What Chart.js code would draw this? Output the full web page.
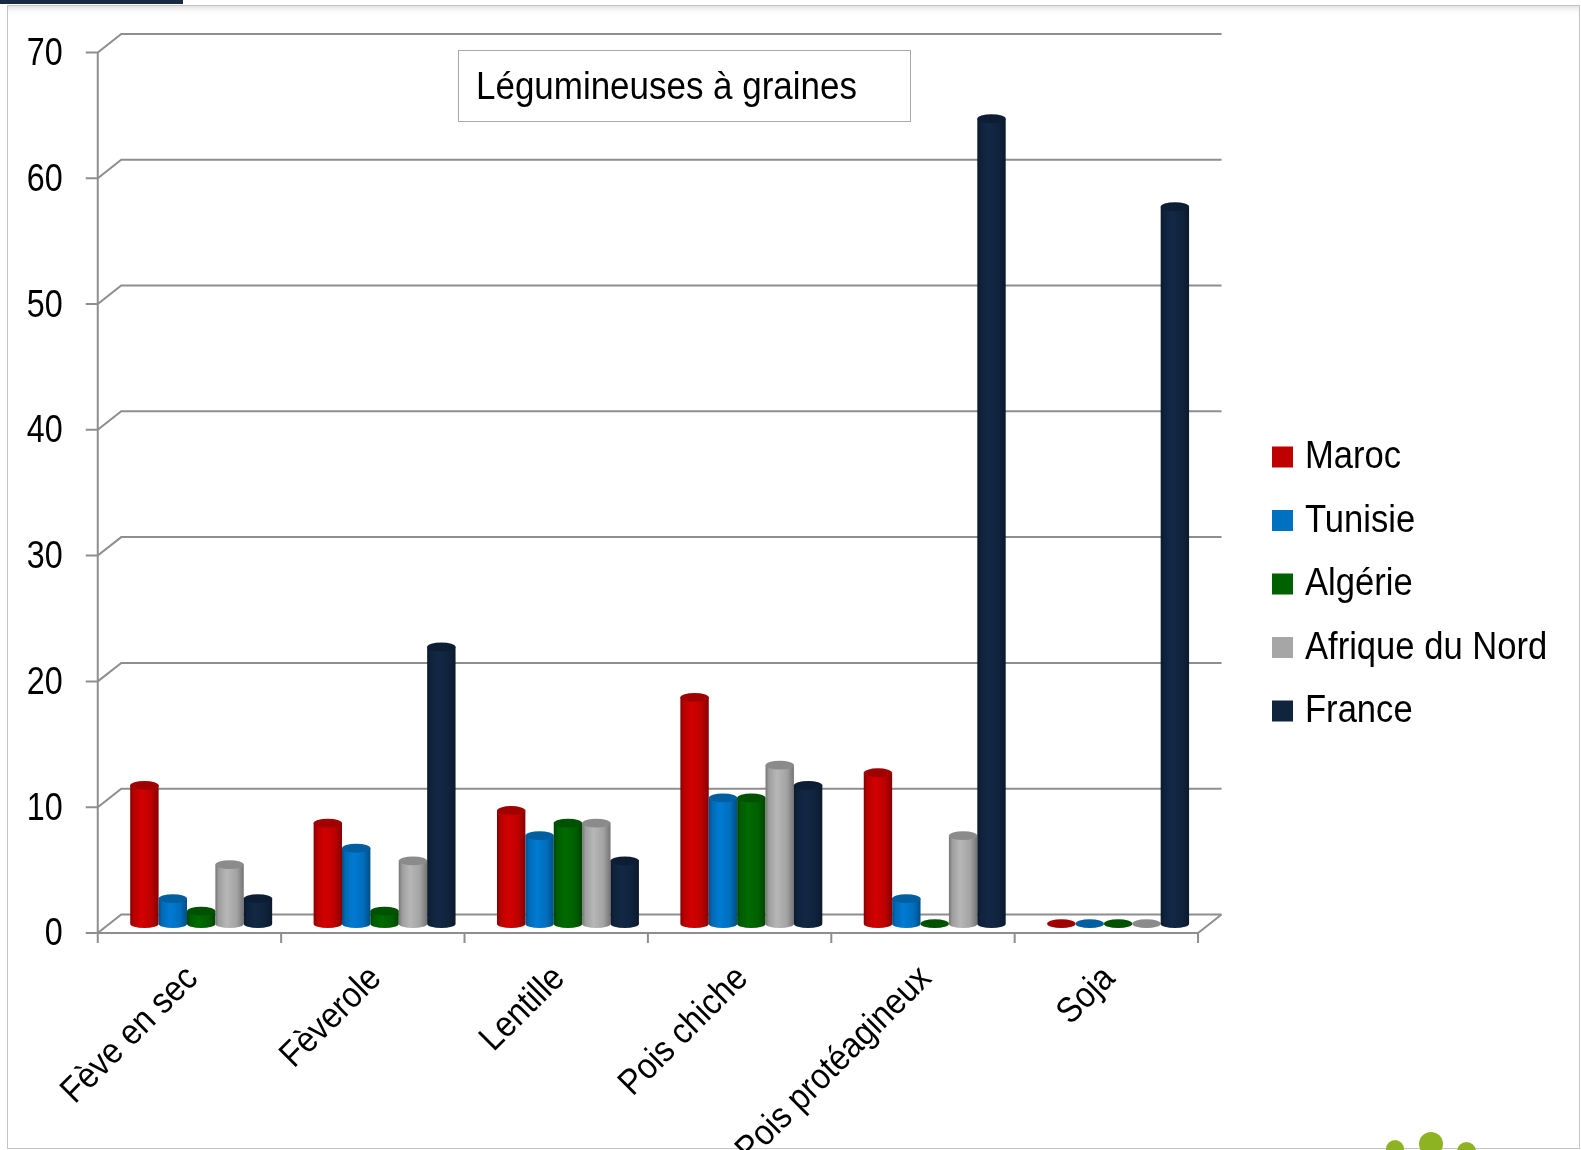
<!DOCTYPE html>
<html lang="fr">
<head>
<meta charset="utf-8">
<title>Légumineuses à graines</title>
<script src="https://cdn.jsdelivr.net/npm/chart.js@4/dist/chart.umd.min.js"></script>
<style>
  html, body { margin: 0; padding: 0; background: #fff; overflow: hidden; }
  #wrap { position: relative; width: 1581px; height: 1150px; overflow: hidden; }
  .frame { position: absolute; left: 7px; top: 5px; width: 1571px; height: 1142px;
           border: 1px solid #c4c4c4; box-shadow: inset 0 7px 6px -5px rgba(0,0,0,0.15); }
  .tab { position: absolute; left: 0; top: 0; width: 183px; height: 4px; background: #1b2a44; }
  .dot { position: absolute; border-radius: 50%; background: #8db322; }
  canvas { position: absolute; left: 0; top: 0; }
</style>
</head>
<body>
<div id="wrap">
  <div class="frame"></div>
  <div class="tab"></div>
  <div class="dot" style="left:1386px;top:1140px;width:18px;height:18px"></div>
  <div class="dot" style="left:1419px;top:1132px;width:24px;height:24px"></div>
  <div class="dot" style="left:1457px;top:1142px;width:19px;height:19px"></div>
  <canvas id="chart" width="1581" height="1150"></canvas>
</div>
<script>
const categories = ["Fève en sec", "Fèverole", "Lentille", "Pois chiche", "Pois protéagineux", "Soja"];
const maroc = [11, 8, 9, 18, 12, 0];
const tunisie = [2, 6, 7, 10, 2, 0];
const algerie = [1, 1, 8, 10, 0, 0];
const afriqueDuNord = [4.7, 5, 8, 12.6, 7, 0];
const france = [2, 22, 5, 11, 64, 57];
const yTicks = [0, 10, 20, 30, 40, 50, 60, 70];

const seriesNames = ["Maroc", "Tunisie", "Algérie", "Afrique du Nord", "France"];
const seriesColors = ["#c00000", "#0070c0", "#006100", "#a6a6a6", "#10243e"];

const FONT = '"Liberation Sans", Arial, sans-serif';
// half the depth of the 3D box: front plane is (-DX, +DY), back wall is (+DX, -DY)
const DX = 11.75, DY = 9.25;
const GRID = "#8e8e8e";

function rgb(hex, f) {
  const n = parseInt(hex.slice(1), 16);
  const c = [(n >> 16) & 255, (n >> 8) & 255, n & 255].map(v => Math.max(0, Math.min(255, Math.round(v * f))));
  return `rgb(${c[0]},${c[1]},${c[2]})`;
}

function text(ctx, str, x, y, opts) {
  ctx.save();
  ctx.translate(x, y);
  if (opts.rotate) ctx.rotate(opts.rotate);
  ctx.scale(opts.sx || 1, 1);
  ctx.font = opts.font;
  ctx.fillStyle = "#000";
  ctx.textAlign = opts.align || "left";
  ctx.textBaseline = "middle";
  ctx.fillText(str, 0, 0);
  ctx.restore();
}

function cylinder(ctx, bar, color) {
  const rx = bar.width / 2, ry = 4.4;
  const x = bar.x, top = bar.y, base = bar.base;
  if (base - top > 0.5) {
    const g = ctx.createLinearGradient(x - rx, 0, x + rx, 0);
    g.addColorStop(0, rgb(color, 0.7));
    g.addColorStop(0.12, rgb(color, 0.95));
    g.addColorStop(0.4, rgb(color, 1.1));
    g.addColorStop(0.75, rgb(color, 0.98));
    g.addColorStop(1, rgb(color, 0.7));
    ctx.fillStyle = g;
    ctx.beginPath();
    ctx.moveTo(x - rx, top);
    ctx.lineTo(x - rx, base);
    ctx.ellipse(x, base, rx, ry, 0, Math.PI, 0, true);
    ctx.lineTo(x + rx, top);
    ctx.closePath();
    ctx.fill();
  }
  ctx.fillStyle = rgb(color, 0.84);
  ctx.beginPath();
  ctx.ellipse(x, top, rx, ry, 0, 0, Math.PI * 2);
  ctx.fill();
}

const box3d = {
  id: "box3d",
  beforeDatasetsDraw(chart) {
    const { ctx, scales: { x, y } } = chart;
    const step = x.getPixelForValue(1) - x.getPixelForValue(0);
    const left = x.getPixelForValue(0) - step / 2;
    const right = x.getPixelForValue(categories.length - 1) + step / 2;
    ctx.save();
    ctx.strokeStyle = GRID;
    ctx.lineWidth = 2;
    ctx.beginPath();
    // back wall gridlines, side wall diagonals and ticks
    yTicks.forEach(v => {
      const py = y.getPixelForValue(v);
      ctx.moveTo(left - DX - 12, py + DY);
      ctx.lineTo(left - DX, py + DY);
      ctx.lineTo(left + DX, py - DY);
      ctx.lineTo(right + DX, py - DY);
    });
    // front axis and floor
    const y0 = y.getPixelForValue(0), yTop = y.getPixelForValue(yTicks[yTicks.length - 1]);
    ctx.moveTo(left - DX, yTop + DY);
    ctx.lineTo(left - DX, y0 + DY + 10);
    ctx.moveTo(left - DX, y0 + DY);
    ctx.lineTo(right - DX, y0 + DY);
    ctx.lineTo(right + DX, y0 - DY);
    for (let i = 1; i <= categories.length; i++) {
      const px = left + i * step - DX;
      ctx.moveTo(px, y0 + DY);
      ctx.lineTo(px, y0 + DY + 10);
    }
    ctx.stroke();
    ctx.restore();

    yTicks.forEach(v => {
      text(ctx, String(v), left - DX - 35, y.getPixelForValue(v) + DY + 2, { font: "38px " + FONT, align: "right", sx: 0.85 });
    });
    categories.forEach((c, i) => {
      text(ctx, c, x.getPixelForValue(i) - DX + 3, y0 + DY + 40,
        { font: "36px " + FONT, align: "right", rotate: -Math.PI / 4, sx: 0.9 });
    });
  },
  beforeDatasetDraw() {
    return false;
  },
  afterDatasetsDraw(chart) {
    const ctx = chart.ctx;
    ctx.save();
    chart.data.datasets.forEach((ds, di) => {
      chart.getDatasetMeta(di).data.forEach(bar => cylinder(ctx, bar, ds.backgroundColor));
    });
    ctx.restore();

    // title box
    ctx.save();
    ctx.fillStyle = "#fff";
    ctx.fillRect(458, 50.5, 452, 71);
    ctx.strokeStyle = "#a8a8a8";
    ctx.lineWidth = 1;
    ctx.strokeRect(458.5, 50.5, 452, 71);
    ctx.restore();
    text(ctx, "Légumineuses à graines", 476, 89, { font: "38px " + FONT, sx: 0.92 });

    // legend
    seriesNames.forEach((name, i) => {
      const cy = 457 + i * 63.5;
      ctx.fillStyle = seriesColors[i];
      ctx.fillRect(1272, cy - 10.5, 21, 21);
      text(ctx, name, 1305, cy + 1, { font: "38px " + FONT, sx: 0.91 });
    });
  }
};

new Chart(document.getElementById("chart"), {
  type: "bar",
  data: {
    labels: categories,
    datasets: [maroc, tunisie, algerie, afriqueDuNord, france].map((d, i) => ({
      label: seriesNames[i],
      data: d,
      backgroundColor: seriesColors[i],
      categoryPercentage: 0.774,
      barPercentage: 1.0,
    })),
  },
  options: {
    responsive: false,
    animation: false,
    layout: { padding: { left: 109.5, right: 371.2, top: 43.2, bottom: 226.3 } },
    plugins: { legend: { display: false }, tooltip: { enabled: false } },
    scales: {
      x: { display: false },
      y: { display: false, min: 0, max: 70 },
    },
  },
  plugins: [box3d],
});
</script>
</body>
</html>
